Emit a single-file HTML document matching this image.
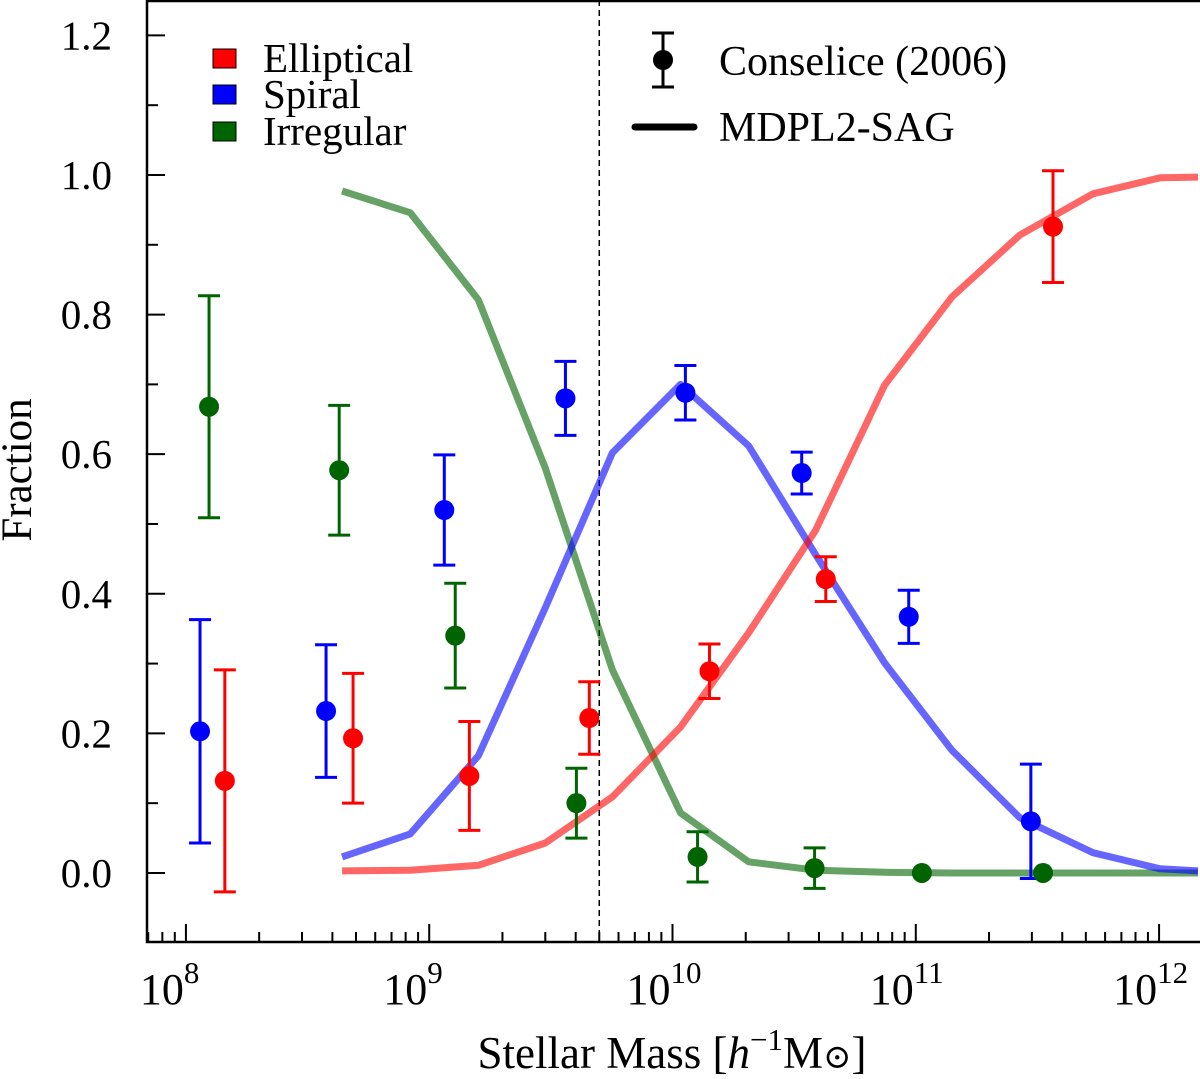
<!DOCTYPE html>
<html><head><meta charset="utf-8">
<style>
html,body{margin:0;padding:0;background:#fff;}
svg{display:block;font-family:"Liberation Serif","DejaVu Serif",serif;}
</style></head>
<body>
<svg id="chart" width="1200" height="1079" viewBox="0 0 1200 1079" xmlns="http://www.w3.org/2000/svg">
<g id="grid-layer"></g>
<g id="lines-layer"></g>
<g id="points-layer"></g>
<g id="axes-layer"></g>
<g id="legend">
  <rect x="213" y="49" width="23" height="19" fill="#ff0000" stroke="#000" stroke-width="1"/>
  <text x="263" y="72" font-size="41">Elliptical</text>
  <rect x="213" y="85" width="23" height="19" fill="#0000ff" stroke="#000" stroke-width="1"/>
  <text x="263" y="108" font-size="41">Spiral</text>
  <rect x="213" y="122" width="23" height="19" fill="#006400" stroke="#000" stroke-width="1"/>
  <text x="263" y="145" font-size="41">Irregular</text>
  <g stroke="#000" stroke-width="3">
    <line x1="663" y1="33" x2="663" y2="87"/><line x1="652" y1="33" x2="674" y2="33"/><line x1="652" y1="87" x2="674" y2="87"/>
    <circle cx="663" cy="60" r="10" fill="#000" stroke="none"/>
  </g>
  <text x="719" y="75" font-size="42">Conselice (2006)</text>
  <line x1="635" y1="127" x2="694" y2="127" stroke="#000" stroke-width="7" stroke-linecap="round"/>
  <text x="719" y="141" font-size="42">MDPL2-SAG</text>
</g>
</svg>
<script>
// ---- data ----
const modelLogMass = [8.642, 8.922, 9.202, 9.477, 9.753, 10.033, 10.313, 10.588, 10.872, 11.148, 11.428, 11.728, 12.004, 12.16];
const modelElliptical = [0.003, 0.004, 0.011, 0.043, 0.109, 0.209, 0.344, 0.491, 0.699, 0.825, 0.914, 0.973, 0.996, 0.997];
const modelSpiral = [0.023, 0.056, 0.168, 0.38, 0.602, 0.7, 0.612, 0.456, 0.301, 0.176, 0.079, 0.029, 0.006, 0.003];
const modelIrregular = [0.977, 0.946, 0.821, 0.58, 0.291, 0.086, 0.016, 0.004, 0.001, 0.0, 0.0, 0.0, 0.0, 0.0];

const ellLogMass = [8.160, 8.687, 9.165, 9.658, 10.152, 10.630, 11.564];
const ellFrac = [0.132, 0.193, 0.139, 0.222, 0.289, 0.421, 0.926];
const ellErr = [0.159, 0.093, 0.078, 0.052, 0.039, 0.032, 0.08];

const spiLogMass = [8.058, 8.576, 9.062, 9.560, 10.053, 10.531, 10.971, 11.473];
const spiFrac = [0.203, 0.232, 0.52, 0.68, 0.688, 0.573, 0.367, 0.074];
const spiErr = [0.16, 0.095, 0.079, 0.053, 0.039, 0.03, 0.038, 0.082];

const irrLogMass = [8.095, 8.630, 9.107, 9.605, 10.103, 10.584, 11.025, 11.523];
const irrFrac = [0.668, 0.577, 0.34, 0.1, 0.023, 0.007, 0.0, 0.0];
const irrErr = [0.159, 0.093, 0.075, 0.05, 0.036, 0.029, 0.0, 0.0];

const yTicks = [0.0, 0.2, 0.4, 0.6, 0.8, 1.0, 1.2];
const yTickLabels = ["0.0", "0.2", "0.4", "0.6", "0.8", "1.0", "1.2"];
const xDecades = [8, 9, 10, 11, 12];
const cutLogMass = 9.699;

// ---- scales ----
const X0 = 147, X1 = 1198, Y0 = 0, Y1 = 942;
const xMin = 7.84, xMax = 12.16, yMin = -0.0989, yMax = 1.2507;
function sx(l){ return X0 + (l - xMin) / (xMax - xMin) * (X1 - X0); }
function sy(v){ return Y1 - (v - yMin) / (yMax - yMin) * (Y1 - Y0); }

const NS = "http://www.w3.org/2000/svg";
function mk(tag, attrs, parent){
  const e = document.createElementNS(NS, tag);
  for (const k in attrs) e.setAttribute(k, attrs[k]);
  parent.appendChild(e); return e;
}
const linesL = document.getElementById('lines-layer');
const ptsL = document.getElementById('points-layer');
const axL = document.getElementById('axes-layer');

const cut = mk('line', {x1: sx(cutLogMass), x2: sx(cutLogMass), y1: Y0, y2: Y1, stroke: '#000', 'stroke-width': 1.5, 'stroke-dasharray': '6,4'}, linesL);



function drawLine(ys, color, name){
  const d = modelLogMass.map((l, i) => (i ? 'L' : 'M') + sx(l).toFixed(1) + ',' + sy(ys[i]).toFixed(1)).join(' ');
  const p = mk('path', {d: d, fill: 'none', stroke: color, 'stroke-width': 7, 'stroke-opacity': 0.6, 'stroke-linejoin': 'round'}, linesL);
  
  
}
drawLine(modelIrregular, '#006400', 'model-line-irregular');
drawLine(modelSpiral, '#0000ff', 'model-line-spiral');
drawLine(modelElliptical, '#ff0000', 'model-line-elliptical');

function drawPts(xs, ys, es, color, name){
  xs.forEach((l, i) => {
    const g = mk('g', {}, ptsL);
    
    
    const x = sx(l);
    if (es[i] > 0){
      const yt = sy(ys[i] + es[i]), yb = sy(ys[i] - es[i]);
      mk('line', {x1: x, x2: x, y1: yt, y2: yb, stroke: color, 'stroke-width': 3}, g);
      mk('line', {x1: x - 11, x2: x + 11, y1: yt, y2: yt, stroke: color, 'stroke-width': 3}, g);
      mk('line', {x1: x - 11, x2: x + 11, y1: yb, y2: yb, stroke: color, 'stroke-width': 3}, g);
    }
    mk('circle', {cx: x, cy: sy(ys[i]), r: 10, fill: color}, g);
  });
}
drawPts(ellLogMass, ellFrac, ellErr, '#ff0000', 'elliptical');
drawPts(spiLogMass, spiFrac, spiErr, '#0000ff', 'spiral');
drawPts(irrLogMass, irrFrac, irrErr, '#006400', 'irregular');

const fr = mk('rect', {x: X0, y: Y0 + 1, width: X1 - X0 + 5, height: Y1 - Y0 - 1, fill: 'none', stroke: '#000', 'stroke-width': 2.5}, axL);



yTicks.forEach((v, i) => {
  const y = sy(v);
  mk('line', {x1: X0, x2: X0 + 18, y1: y, y2: y, stroke: '#000', 'stroke-width': 2}, axL);
  const t = mk('text', {x: 112, y: y + 14, 'font-size': 41, 'text-anchor': 'end'}, axL);
  t.textContent = yTickLabels[i];
  
  
  const ym = sy(v + 0.1);
  if (ym > Y0) mk('line', {x1: X0, x2: X0 + 11, y1: ym, y2: ym, stroke: '#000', 'stroke-width': 2}, axL);
});

for (let d = 7; d <= 12; d++){
  for (let k = 1; k <= 9; k++){
    const l = d + Math.log10(k);
    if (l < xMin || l > xMax) continue;
    const x = sx(l);
    const len = k === 1 ? 18 : 10;
    mk('line', {x1: x, x2: x, y1: Y1, y2: Y1 - len, stroke: '#000', 'stroke-width': 2}, axL);
  }
}
xDecades.forEach(d => {
  const x = sx(d);
  const t = mk('text', {x: x - 24, y: 1004, 'font-size': 44, 'text-anchor': 'middle'}, axL);
  t.textContent = '10';
  
  
  const s = mk('text', {x: x - 2, y: 983, 'font-size': 31, 'text-anchor': 'start'}, axL);
  s.textContent = String(d);
  
  
});

const xt = mk('text', {x: 672, y: 1068, 'font-size': 45, 'text-anchor': 'middle'}, axL);
xt.innerHTML = 'Stellar Mass [<tspan font-style="italic">h</tspan><tspan dy="-18" font-size="31">−1</tspan><tspan dy="18">M</tspan><tspan font-size="34">⊙</tspan>]';


const yt = mk('text', {x: 0, y: 0, 'font-size': 43, 'text-anchor': 'middle', transform: 'translate(31,470) rotate(-90)'}, axL);
yt.textContent = 'Fraction';


</script>
</body></html>
